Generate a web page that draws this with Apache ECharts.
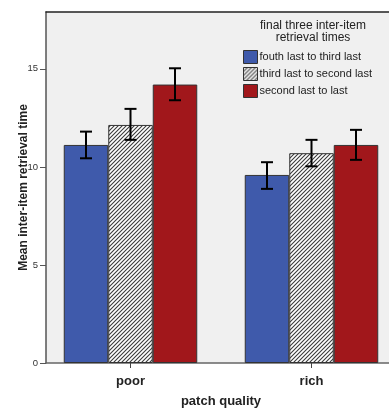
<!DOCTYPE html>
<html><head><meta charset="utf-8">
<script src="https://cdn.jsdelivr.net/npm/echarts@6/dist/echarts.min.js"></script>
<style>html,body{margin:0;padding:0;background:#fff}#c{width:389px;height:408px}</style>
</head><body><div id="c"></div>
<script>
var categories = ['poor', 'rich'];
var seriesNames = ['fouth last to third last', 'third last to second last', 'second last to last'];
var meanFourthToThird = [11.12, 9.59];
var meanThirdToSecond = [12.14, 10.7];
var meanSecondToLast = [14.2, 11.12];
var lowFourthToThird = [10.44, 8.88];
var highFourthToThird = [11.8, 10.24];
var lowThirdToSecond = [11.38, 10.03];
var highThirdToSecond = [12.96, 11.38];
var lowSecondToLast = [13.4, 10.36];
var highSecondToLast = [15.03, 11.89];
var yTicks = [0, 5, 10, 15];

var means = [meanFourthToThird, meanThirdToSecond, meanSecondToLast];
var lows = [lowFourthToThird, lowThirdToSecond, lowSecondToLast];
var highs = [highFourthToThird, highThirdToSecond, highSecondToLast];

var pc = document.createElement('canvas');
pc.width = 4; pc.height = 4;
var g = pc.getContext('2d');
g.fillStyle = '#ffffff'; g.fillRect(0, 0, 4, 4);
g.strokeStyle = '#3a3a3a'; g.lineWidth = 1.1;
g.beginPath();
g.moveTo(-1, 5); g.lineTo(5, -1);
g.moveTo(-1, 1); g.lineTo(1, -1);
g.moveTo(3, 5); g.lineTo(5, 3);
g.stroke();

var colors = ['#3f5aab', {image: pc, repeat: 'repeat'}, '#a1171b'];
var YMAX = 17.9;
var BARW = 44.5;

var chart = echarts.init(document.getElementById('c'), null, {renderer: 'canvas'});
var series = [];
for (var k = 0; k < 3; k++) {
  series.push({
    type: 'bar', name: seriesNames[k], xAxisIndex: 2, yAxisIndex: 1,
    data: means[k], barWidth: BARW, barGap: '0%',
    itemStyle: {color: colors[k], borderColor: '#333', borderWidth: 1},
    emphasis: {disabled: true}, animation: false
  });
}
for (var k2 = 0; k2 < 3; k2++) {
  (function (k) {
    var d = [];
    for (var i = 0; i < categories.length; i++) d.push([i, lows[k][i], highs[k][i]]);
    series.push({
      type: 'custom', xAxisIndex: 2, yAxisIndex: 1, z: 10, silent: true, animation: false,
      data: d,
      renderItem: function (params, api) {
        var x = api.value(0);
        var lo = api.coord([x, api.value(1)]);
        var hi = api.coord([x, api.value(2)]);
        var cx = lo[0] + (k - 1) * BARW;
        var cap = 6;
        var st = {stroke: '#000', lineWidth: 2};
        return {type: 'group', children: [
          {type: 'line', shape: {x1: cx, y1: lo[1], x2: cx, y2: hi[1]}, style: st},
          {type: 'line', shape: {x1: cx - cap, y1: lo[1], x2: cx + cap, y2: lo[1]}, style: st},
          {type: 'line', shape: {x1: cx - cap, y1: hi[1], x2: cx + cap, y2: hi[1]}, style: st}
        ]};
      }
    });
  })(k2);
}

chart.setOption({
  animation: false,
  textStyle: {fontFamily: 'Liberation Sans, Arial, sans-serif'},
  title: {
    text: 'final three inter-item\nretrieval times',
    left: 308, top: 15, textAlign: 'center',
    textStyle: {fontSize: 12, fontWeight: 'normal', color: '#222', lineHeight: 12, fontFamily: 'Liberation Sans, Arial, sans-serif'}
  },
  legend: {
    data: seriesNames, orient: 'vertical', left: 243, top: 50, padding: 0,
    itemWidth: 14, itemHeight: 13, itemGap: 3, icon: 'rect',
    itemStyle: {borderColor: '#333', borderWidth: 1},
    textStyle: {fontSize: 11, color: '#222', padding: [0, 0, 0, -3]},
    selectedMode: false
  },
  grid: [
    {left: 46, top: 12, right: 0, bottom: 45, show: true, backgroundColor: '#f0f0f0', borderWidth: 0, outerBoundsMode: 'none'},
    {left: 40, top: 12, width: 362, bottom: 45, outerBoundsMode: 'none'}
  ],
  xAxis: [
    {type: 'value', gridIndex: 0, min: 0, max: 1, axisLine: {show: true, lineStyle: {color: '#666', width: 1.5}}, axisTick: {show: false}, axisLabel: {show: false}, splitLine: {show: false}},
    {type: 'value', gridIndex: 0, position: 'top', min: 0, max: 1, axisLine: {show: true, onZero: false, lineStyle: {color: '#222', width: 1.5}}, axisTick: {show: false}, axisLabel: {show: false}, splitLine: {show: false}},
    {type: 'category', gridIndex: 1, data: categories,
     axisLine: {show: false}, axisTick: {show: true, alignWithLabel: true, length: 5, lineStyle: {color: '#444'}},
     axisLabel: {fontSize: 13, fontWeight: 'bold', color: '#222', margin: 12},
     name: 'patch quality', nameLocation: 'middle', nameGap: 32, nameMoveOverlap: false,
     nameTextStyle: {fontSize: 13, fontWeight: 'bold', color: '#222'}}
  ],
  yAxis: [
    {type: 'value', gridIndex: 0, min: 0, max: YMAX, interval: 5,
     axisLine: {show: true, lineStyle: {color: '#555', width: 1.5}},
     axisTick: {show: true, length: 6, lineStyle: {color: '#555'}},
     axisLabel: {fontSize: 9.5, color: '#333', margin: 8, showMaxLabel: false,
       formatter: function (v) { return yTicks.indexOf(v) >= 0 ? String(v) : ''; }},
     splitLine: {show: false},
     name: 'Mean inter-item retrieval time', nameLocation: 'middle', nameRotate: 90, nameGap: 16, nameMoveOverlap: false,
     nameTextStyle: {fontSize: 12, fontWeight: 'bold', color: '#222', verticalAlign: 'bottom'}},
    {type: 'value', gridIndex: 1, min: 0, max: YMAX, show: false}
  ],
  series: series
});
</script></body></html>
